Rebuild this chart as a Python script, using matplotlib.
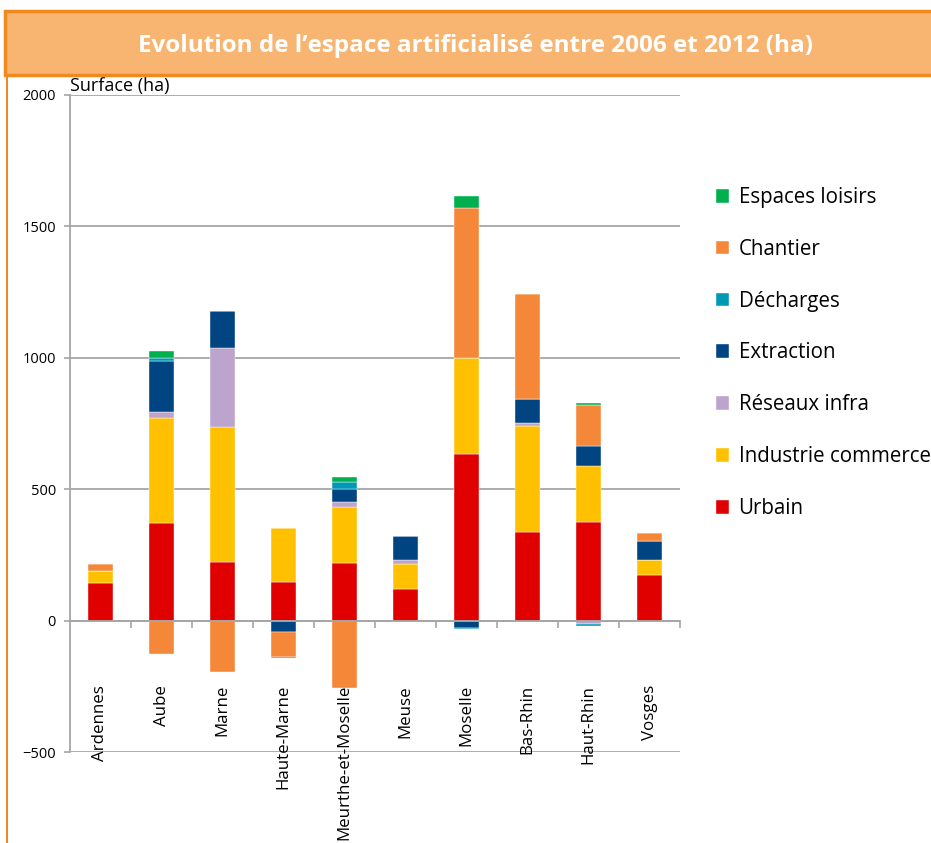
import matplotlib.pyplot as plt
import matplotlib.patches as mpatches
import numpy as np

# Données (ha)
departements = ['Ardennes', 'Aube', 'Marne', 'Haute-Marne', 'Meurthe-et-Moselle',
                'Meuse', 'Moselle', 'Bas-Rhin', 'Haut-Rhin', 'Vosges']
urbain = [142, 370, 224, 148, 221, 120, 633, 338, 374, 174]
industrie = [48, 401, 511, 204, 210, 96, 366, 404, 214, 56]
reseaux = [0, 22, 303, 0, 20, 13, 0, 9, -12, 0]
extraction = [0, 195, 139, -43, 51, 92, -27, 91, 76, 71]
decharges = [0, 13, 0, 0, 27, 0, -6, 0, -8, 0]
chantier = [25, -128, -196, -96, -255, 0, 570, 399, 155, 33]
loisirs = [0, 23, 0, -3, 19, 0, 45, 0, 10, 0]

series = [
    ('Urbain', urbain, '#E00000'),
    ('Industrie commerce', industrie, '#FFC000'),
    ('Réseaux infra', reseaux, '#BCA4CC'),
    ('Extraction', extraction, '#004481'),
    ('Décharges', decharges, '#0099B5'),
    ('Chantier', chantier, '#F58738'),
    ('Espaces loisirs', loisirs, '#00B04F'),
]

plt.rcParams['font.family'] = ['Open Sans', 'DejaVu Sans']

fig = plt.figure(figsize=(9.31, 8.43), dpi=100)

# Bandeau du titre
fig.patches.append(mpatches.Rectangle((5 / 931, 1 - 75 / 843), 1, 64 / 843,
                                      transform=fig.transFigure, facecolor='#F8B572',
                                      edgecolor='#F08A1E', linewidth=2.5))
fig.patches.append(mpatches.Rectangle((6 / 931, 0), 0.002, 1 - 75 / 843,
                                      transform=fig.transFigure, facecolor='#F08A1E',
                                      edgecolor='none'))
fig.text(475 / 931, 1 - 46 / 843, 'Evolution de l’espace artificialisé entre 2006 et 2012 (ha)',
         ha='center', va='center', color='white', fontsize=17.5, fontweight='bold',
         family=['Open Sans', 'DejaVu Sans'])

ax = fig.add_axes([70 / 931, 1 - 752 / 843, 610 / 931, 657 / 843])

x = np.arange(len(departements))
pos_bottom = np.zeros(len(departements))
neg_bottom = np.zeros(len(departements))
for nom, vals, col in series:
    v = np.array(vals, dtype=float)
    bottom = np.where(v >= 0, pos_bottom, neg_bottom)
    ax.bar(x, v, width=0.40, bottom=bottom, color=col, label=nom,
           edgecolor='white', linewidth=0.3, zorder=3)
    pos_bottom += np.where(v >= 0, v, 0)
    neg_bottom += np.where(v < 0, v, 0)

ax.set_xlim(-0.5, len(departements) - 0.5)
ax.set_ylim(-500, 2000)
ax.set_yticks([-500, 0, 500, 1000, 1500, 2000])
ax.yaxis.grid(True, color='#A6A6A6', linewidth=1.3, zorder=0)
ax.set_axisbelow(True)

for s in ['top', 'right']:
    ax.spines[s].set_visible(False)
ax.spines['left'].set_color('#A6A6A6')
ax.spines['left'].set_linewidth(1.3)
ax.spines['bottom'].set_position(('data', 0))
ax.spines['bottom'].set_color('#A6A6A6')
ax.spines['bottom'].set_linewidth(1.3)
ax.spines['bottom'].set_zorder(4)

ax.set_xticks(np.arange(len(departements)) + 0.5)
ax.set_xticklabels([])
ax.tick_params(axis='x', direction='out', length=5, color='#A6A6A6', width=1.2)
ax.tick_params(axis='y', direction='out', length=4, color='#A6A6A6', width=1.2,
               labelsize=10.5, pad=6)

for i, d in enumerate(departements):
    ax.text(i, -245, d, rotation=90, ha='center', va='top', fontsize=12.2)

ax.text(0, 1.0, 'Surface (ha)', transform=ax.transAxes, ha='left', va='bottom',
        fontsize=13)

handles, labels = ax.get_legend_handles_labels()
fig.legend(handles[::-1], labels[::-1], loc='upper left',
           bbox_to_anchor=(716 / 931, 1 - 187 / 843), frameon=False, fontsize=14.8,
           handlelength=0.65, handleheight=0.65, handletextpad=0.45, labelspacing=1.5,
           borderpad=0, borderaxespad=0)

plt.savefig('out.png', dpi=100)
